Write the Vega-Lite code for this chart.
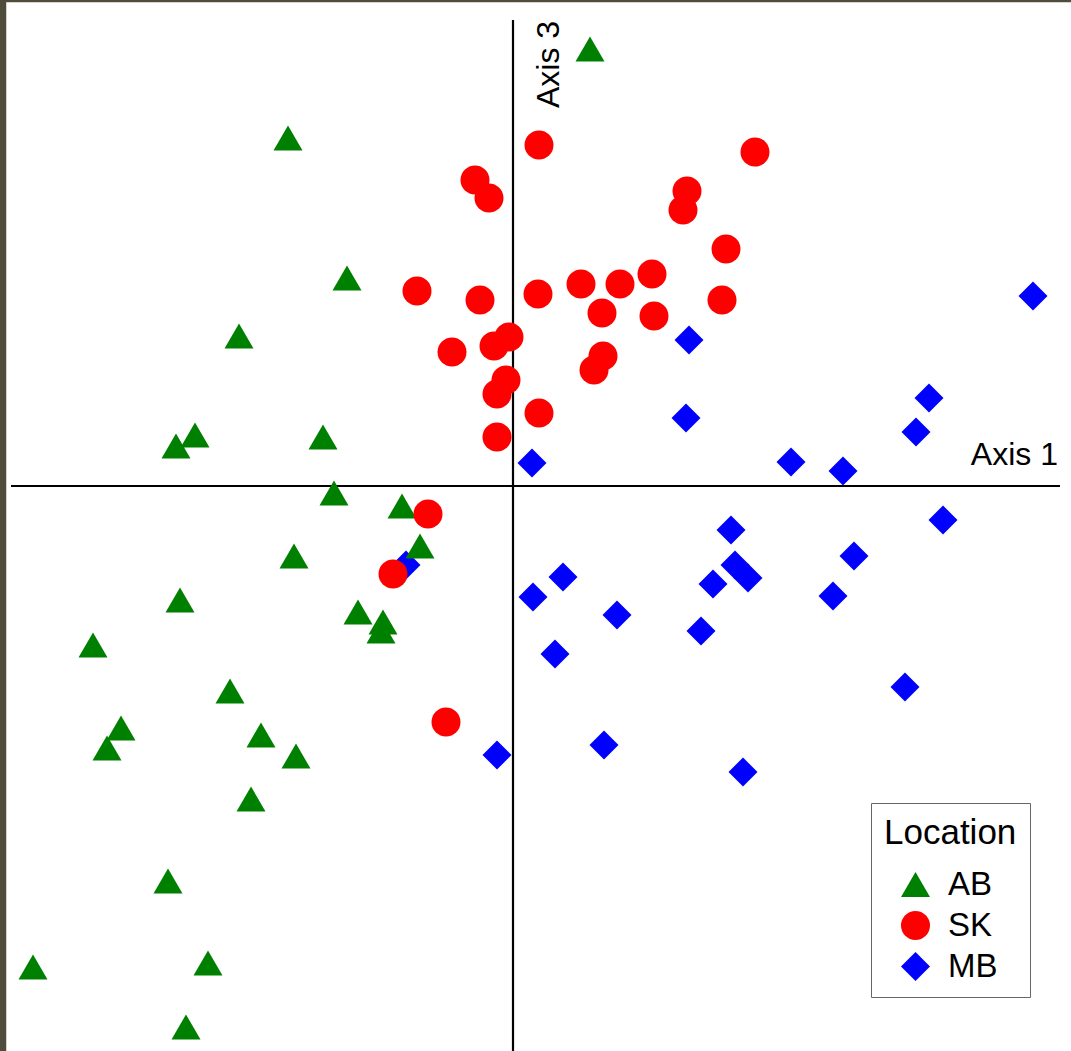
{
  "$schema": "https://vega.github.io/schema/vega-lite/v6.json",
  "width": 1066,
  "height": 1050,
  "autosize": {"type": "none"},
  "padding": {"left": 6, "top": 2, "right": 0, "bottom": 0},
  "background": "#4f4c3e",
  "config": {
    "view": {"fill": "white", "stroke": "#d6d3c9", "strokeWidth": 1},
    "font": "Liberation Sans"
  },
  "encoding": {
    "x": {"type": "quantitative", "scale": {"domain": [-5.07, 5.59], "nice": false, "zero": false}, "axis": null},
    "y": {"type": "quantitative", "scale": {"domain": [-5.66, 4.84], "nice": false, "zero": false}, "axis": null}
  },
  "layer": [
    {
      "data": {"values": [{"x": -5.02, "x2": 5.47, "y": 0}]},
      "mark": {"type": "rule", "color": "black", "strokeWidth": 2.2},
      "encoding": {
        "x": {"field": "x", "type": "quantitative", "scale": {"domain": [-5.07, 5.59], "nice": false, "zero": false}, "axis": null},
        "x2": {"field": "x2"},
        "y": {"field": "y", "type": "quantitative", "scale": {"domain": [-5.66, 4.84], "nice": false, "zero": false}, "axis": null}
      }
    },
    {
      "data": {"values": [{"x": 0, "y": 4.66, "y2": -5.66}]},
      "mark": {"type": "rule", "color": "black", "strokeWidth": 2.2},
      "encoding": {
        "x": {"field": "x", "type": "quantitative", "scale": {"domain": [-5.07, 5.59], "nice": false, "zero": false}, "axis": null},
        "y": {"field": "y", "type": "quantitative", "scale": {"domain": [-5.66, 4.84], "nice": false, "zero": false}, "axis": null},
        "y2": {"field": "y2"}
      }
    },
    {
      "data": {"values": [{"x": 5.45, "y": 0.21, "label": "Axis 1"}]},
      "mark": {"type": "text", "align": "right", "baseline": "alphabetic", "fontSize": 32, "color": "black"},
      "encoding": {
        "x": {"field": "x", "type": "quantitative", "scale": {"domain": [-5.07, 5.59], "nice": false, "zero": false}, "axis": null},
        "y": {"field": "y", "type": "quantitative", "scale": {"domain": [-5.66, 4.84], "nice": false, "zero": false}, "axis": null},
        "text": {"field": "label"}
      }
    },
    {
      "data": {"values": [{"x": 0.46, "y": 3.78, "label": "Axis 3"}]},
      "mark": {"type": "text", "align": "left", "baseline": "alphabetic", "angle": 270, "fontSize": 32, "color": "black"},
      "encoding": {
        "x": {"field": "x", "type": "quantitative", "scale": {"domain": [-5.07, 5.59], "nice": false, "zero": false}, "axis": null},
        "y": {"field": "y", "type": "quantitative", "scale": {"domain": [-5.66, 4.84], "nice": false, "zero": false}, "axis": null},
        "text": {"field": "label"}
      }
    },
    {
      "data": {"values": [
        {"location": "MB", "axis1": 5.20, "axis3": 1.90},
        {"location": "MB", "axis1": 1.76, "axis3": 1.46},
        {"location": "MB", "axis1": 4.16, "axis3": 0.88},
        {"location": "MB", "axis1": 1.73, "axis3": 0.68},
        {"location": "MB", "axis1": 4.03, "axis3": 0.54},
        {"location": "MB", "axis1": 0.19, "axis3": 0.23},
        {"location": "MB", "axis1": 2.78, "axis3": 0.24},
        {"location": "MB", "axis1": 3.30, "axis3": 0.15},
        {"location": "MB", "axis1": 4.30, "axis3": -0.34},
        {"location": "MB", "axis1": 2.18, "axis3": -0.44},
        {"location": "MB", "axis1": 3.41, "axis3": -0.70},
        {"location": "MB", "axis1": 2.22, "axis3": -0.79},
        {"location": "MB", "axis1": 2.35, "axis3": -0.92},
        {"location": "MB", "axis1": 2.00, "axis3": -0.98},
        {"location": "MB", "axis1": 0.50, "axis3": -0.91},
        {"location": "MB", "axis1": 0.20, "axis3": -1.11},
        {"location": "MB", "axis1": 3.20, "axis3": -1.10},
        {"location": "MB", "axis1": 1.04, "axis3": -1.29},
        {"location": "MB", "axis1": 1.88, "axis3": -1.45},
        {"location": "MB", "axis1": 0.42, "axis3": -1.68},
        {"location": "MB", "axis1": 3.92, "axis3": -2.01},
        {"location": "MB", "axis1": 0.91, "axis3": -2.59},
        {"location": "MB", "axis1": -0.16, "axis3": -2.69},
        {"location": "MB", "axis1": 2.30, "axis3": -2.86},
        {"location": "MB", "axis1": -1.07, "axis3": -0.79},
        {"location": "AB", "axis1": 0.77, "axis3": 4.37},
        {"location": "AB", "axis1": -2.25, "axis3": 3.48},
        {"location": "AB", "axis1": -1.66, "axis3": 2.08},
        {"location": "AB", "axis1": -2.74, "axis3": 1.50},
        {"location": "AB", "axis1": -3.18, "axis3": 0.51},
        {"location": "AB", "axis1": -3.37, "axis3": 0.40},
        {"location": "AB", "axis1": -1.90, "axis3": 0.49},
        {"location": "AB", "axis1": -1.79, "axis3": -0.07},
        {"location": "AB", "axis1": -1.11, "axis3": -0.20},
        {"location": "AB", "axis1": -0.93, "axis3": -0.60},
        {"location": "AB", "axis1": -2.19, "axis3": -0.70},
        {"location": "AB", "axis1": -3.33, "axis3": -1.14},
        {"location": "AB", "axis1": -1.55, "axis3": -1.26},
        {"location": "AB", "axis1": -1.30, "axis3": -1.36},
        {"location": "AB", "axis1": -1.32, "axis3": -1.45},
        {"location": "AB", "axis1": -4.20, "axis3": -1.59},
        {"location": "AB", "axis1": -2.83, "axis3": -2.05},
        {"location": "AB", "axis1": -3.92, "axis3": -2.42},
        {"location": "AB", "axis1": -4.06, "axis3": -2.62},
        {"location": "AB", "axis1": -2.52, "axis3": -2.49},
        {"location": "AB", "axis1": -2.17, "axis3": -2.70},
        {"location": "AB", "axis1": -2.62, "axis3": -3.13},
        {"location": "AB", "axis1": -3.45, "axis3": -3.95},
        {"location": "AB", "axis1": -3.05, "axis3": -4.77},
        {"location": "AB", "axis1": -4.80, "axis3": -4.81},
        {"location": "AB", "axis1": -3.27, "axis3": -5.41},
        {"location": "SK", "axis1": 0.26, "axis3": 3.41},
        {"location": "SK", "axis1": 2.42, "axis3": 3.34},
        {"location": "SK", "axis1": -0.38, "axis3": 3.06},
        {"location": "SK", "axis1": -0.24, "axis3": 2.88},
        {"location": "SK", "axis1": 1.74, "axis3": 2.95},
        {"location": "SK", "axis1": 1.70, "axis3": 2.76},
        {"location": "SK", "axis1": 2.13, "axis3": 2.37},
        {"location": "SK", "axis1": -0.96, "axis3": 1.95},
        {"location": "SK", "axis1": -0.33, "axis3": 1.86},
        {"location": "SK", "axis1": 0.25, "axis3": 1.92},
        {"location": "SK", "axis1": 0.68, "axis3": 2.02},
        {"location": "SK", "axis1": 1.07, "axis3": 2.02},
        {"location": "SK", "axis1": 1.39, "axis3": 2.12},
        {"location": "SK", "axis1": 2.09, "axis3": 1.86},
        {"location": "SK", "axis1": 0.89, "axis3": 1.73},
        {"location": "SK", "axis1": 1.41, "axis3": 1.70},
        {"location": "SK", "axis1": -0.04, "axis3": 1.49},
        {"location": "SK", "axis1": -0.19, "axis3": 1.40},
        {"location": "SK", "axis1": -0.61, "axis3": 1.34},
        {"location": "SK", "axis1": 0.90, "axis3": 1.30},
        {"location": "SK", "axis1": 0.81, "axis3": 1.16},
        {"location": "SK", "axis1": -0.07, "axis3": 1.06},
        {"location": "SK", "axis1": -0.16, "axis3": 0.92},
        {"location": "SK", "axis1": 0.26, "axis3": 0.73},
        {"location": "SK", "axis1": -0.16, "axis3": 0.49},
        {"location": "SK", "axis1": -0.85, "axis3": -0.28},
        {"location": "SK", "axis1": -1.20, "axis3": -0.88},
        {"location": "SK", "axis1": -0.67, "axis3": -2.36}
      ]},
      "mark": {"type": "point", "filled": true, "opacity": 1, "size": 841, "strokeWidth": 0},
      "encoding": {
        "x": {"field": "axis1", "type": "quantitative", "scale": {"domain": [-5.07, 5.59], "nice": false, "zero": false}, "axis": null},
        "y": {"field": "axis3", "type": "quantitative", "scale": {"domain": [-5.66, 4.84], "nice": false, "zero": false}, "axis": null},
        "color": {
          "field": "location", "type": "nominal",
          "scale": {"domain": ["AB", "SK", "MB"], "range": ["#008000", "#ff0000", "#0000ff"]},
          "legend": {
            "title": "Location",
            "orient": "none",
            "legendX": 865,
            "legendY": 801,
            "padding": 13,
            "strokeColor": "#666666",
            "fillColor": "white",
            "titleFontSize": 35,
            "titleFontWeight": "normal",
            "titleColor": "black",
            "titleFont": "Liberation Sans",
            "titlePadding": 17,
            "labelFontSize": 33,
            "labelColor": "black",
            "labelFont": "Liberation Sans",
            "labelOffset": 16,
            "symbolSize": 841,
            "symbolOffset": 15,
            "symbolStrokeWidth": 0,
            "rowPadding": 7
          }
        },
        "shape": {
          "field": "location", "type": "nominal",
          "scale": {"domain": ["AB", "SK", "MB"], "range": ["triangle-up", "circle", "diamond"]}
        }
      }
    }
  ]
}
